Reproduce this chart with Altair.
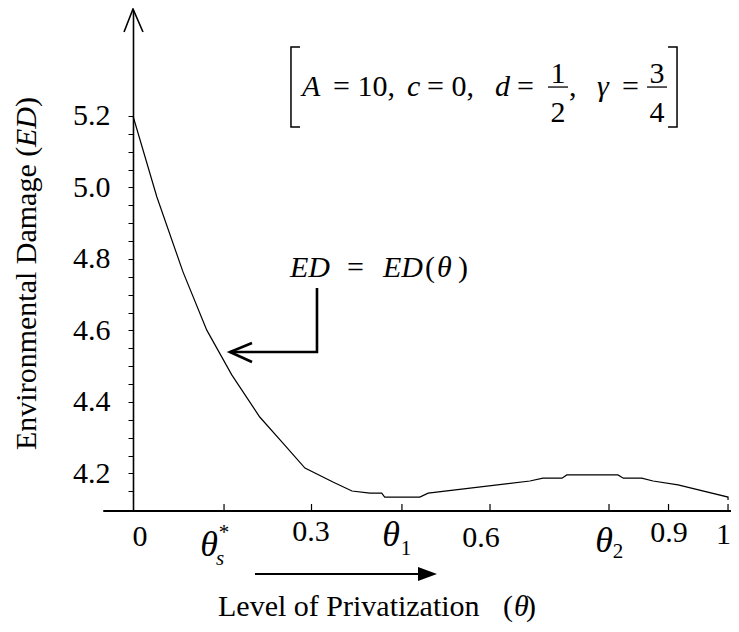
import altair as alt
import pandas as pd

FONT = "Liberation Serif, Times New Roman, Times, DejaVu Serif, serif"

# ---- curve ED(theta) ----
theta = [0.0, 0.04, 0.084, 0.124, 0.166, 0.213, 0.252, 0.289, 0.336, 0.368,
         0.398, 0.418, 0.423, 0.482, 0.496, 0.667, 0.689, 0.721, 0.729, 0.815,
         0.824, 0.855, 0.874, 0.916, 1.0, 1.0]
ed = [5.2, 4.974, 4.764, 4.601, 4.476, 4.358, 4.285, 4.215, 4.176, 4.151,
      4.145, 4.145, 4.134, 4.134, 4.145, 4.179, 4.187, 4.187, 4.196, 4.196,
      4.187, 4.187, 4.179, 4.168, 4.134, 4.126]

# ---- axes ----
y_tick_values = [4.15, 4.2, 4.25, 4.3, 4.35, 4.4, 4.45, 4.5, 4.55, 4.6, 4.65,
                 4.7, 4.75, 4.8, 4.85, 4.9, 4.95, 5.0, 5.05, 5.1, 5.15, 5.2]
x_tick_values = [0.153, 0.3, 0.452, 0.6, 0.8, 0.9, 1.0]
x_num_labels = ["0", "0.3", "0.6", "0.9", "1"]
x_num_pos = [0.0118, 0.2992, 0.5849, 0.9008, 0.9925]
x_num_base = [3.9972, 4.0112, 3.9944, 4.0084, 4.0028]

X_DOMAIN = [0, 1.005]
Y_DOMAIN = [4.0951, 5.4965]
XS = alt.Scale(domain=X_DOMAIN, nice=False, zero=False)
YS = alt.Scale(domain=Y_DOMAIN, nice=False, zero=False)
YAX = alt.Axis(
    values=y_tick_values, title=None, grid=False,
    domainColor="black", domainWidth=1.6, tickColor="black", tickWidth=1,
    tickSize=5, labelFont=FONT, labelFontSize=30, labelColor="black",
    labelPadding=18,
    labelExpr="round(datum.value*20) % 4 == 0 ? format(datum.value, '.1f') : ''")


def xy(xf="x", yf="y"):
    return dict(x=alt.X(f"{xf}:Q", scale=XS, axis=None),
                y=alt.Y(f"{yf}:Q", scale=YS, axis=YAX))


curve_df = pd.DataFrame({"x": theta, "y": ed, "i": list(range(len(theta)))})
curve = alt.Chart(curve_df).mark_line(color="black", strokeWidth=1.2, clip=False).encode(
    **xy(), order="i:Q")

# x axis line (extends to the left of the y axis)
xline = alt.Chart(pd.DataFrame({"x": [-0.05], "x2": [1.03], "y": [Y_DOMAIN[0]]})).mark_rule(
    color="black", strokeWidth=1.8, clip=False).encode(**xy(), x2="x2:Q")

# x ticks pointing up
xt_df = pd.DataFrame({"x": x_tick_values})
xt_df["y"] = Y_DOMAIN[0]
xt_df["y2"] = Y_DOMAIN[0] + 0.0196
xticks = alt.Chart(xt_df).mark_rule(color="black", strokeWidth=1.2, clip=False).encode(
    **xy(), y2="y2:Q")

# annotation line segments (in data units)
segs = [
    ("yarrow", 1.6, [(-0.0151, 5.435), (0.0, 5.4993), (0.0168, 5.435)]),
    ("ptr", 2.6, [(0.3092, 4.7189), (0.3092, 4.5399), (0.1630, 4.5399)]),
    ("ptrhead", 2.6, [(0.2, 4.565), (0.163, 4.5399), (0.2, 4.5119)]),
    ("lbr", 1.5, [(0.2807, 5.393), (0.2655, 5.393), (0.2655, 5.169), (0.2807, 5.169)]),
    ("rbr", 1.5, [(0.8992, 5.393), (0.9143, 5.393), (0.9143, 5.169), (0.8992, 5.169)]),
    ("bar1", 1.3, [(0.6975, 5.281), (0.7311, 5.281)]),
    ("bar2", 1.3, [(0.8639, 5.281), (0.8975, 5.281)]),
    ("xarrow", 2.0, [(0.2050, 3.9189), (0.4790, 3.9189)]),
]
rows = []
for name, w, pts in segs:
    for k, (px, py) in enumerate(pts):
        rows.append({"seg": name, "w": w, "o": k, "x": px, "y": py})
seg_df = pd.DataFrame(rows)
seglines = alt.Chart(seg_df).mark_line(color="black", clip=False).encode(
    **xy(), detail="seg:N", order="o:Q",
    strokeWidth=alt.StrokeWidth("w:Q", scale=None))

# filled arrowhead on the bottom arrow
tri_df = pd.DataFrame({"x": [0.479, 0.5109], "y": [3.9385, 3.9189], "y2": [3.8993, 3.9189]})
tri = alt.Chart(tri_df).mark_area(color="black", clip=False, interpolate="linear").encode(
    **xy(), y2="y2:Q")


def texts(items, size, italic=False, align="left", angle=0):
    df = pd.DataFrame(items, columns=["label", "x", "y"])
    return alt.Chart(df).mark_text(
        font=FONT, fontSize=size, fontStyle="italic" if italic else "normal",
        align=align, baseline="alphabetic", angle=angle, color="black", clip=False
    ).encode(**xy(), text="label:N")


num_labels = texts(list(zip(x_num_labels, x_num_pos, x_num_base)), 30, align="center")
theta_labels = texts([("θ", 0.1277, 3.9692), ("θ", 0.4336, 3.9972), ("θ", 0.7916, 3.9804)],
                     36, italic=True, align="center")
sub_regular = texts([("1", 0.4588, 3.972), ("2", 0.8151, 3.9636), ("*", 0.1530, 4.016)],
                    21, align="center")
sub_italic = texts([("s", 0.1462, 3.9441)], 21, italic=True, align="center")

reg_texts = texts([
    ("Level of Privatization", 0.1429, 3.8014),
    ("(", 0.6218, 3.8014), (")", 0.6605, 3.8014),
    ("=", 0.3597, 4.7497), ("(", 0.4908, 4.7497), (")", 0.5462, 4.7497),
    ("= 10,", 0.3361, 5.2559), ("= 0,", 0.4941, 5.2559), ("=", 0.6454, 5.2559),
    (",", 0.7328, 5.2559), ("=", 0.8218, 5.2559),
], 30)
ita_texts = texts([
    ("θ", 0.6403, 3.8014),
    ("ED", 0.2639, 4.7497), ("ED", 0.4202, 4.7497), ("θ", 0.5109, 4.7497),
    ("A", 0.2840, 5.2559), ("c", 0.4605, 5.2559), ("d", 0.6084, 5.2559),
    ("γ", 0.7798, 5.2559),
], 30, italic=True)
fractions = texts([("1", 0.7143, 5.2923), ("2", 0.7143, 5.1832),
                   ("3", 0.8807, 5.2923), ("4", 0.8807, 5.1832)], 30, align="center")

ytitle_reg = texts([("Environmental Damage (", -0.163, 4.2657), (")", -0.163, 5.2252)],
                   30, angle=270)
ytitle_ita = texts([("ED", -0.163, 5.1133)], 30, italic=True, angle=270)

chart = alt.layer(
    curve, xline, xticks, seglines, tri, num_labels, theta_labels, sub_regular,
    sub_italic, reg_texts, ita_texts, fractions, ytitle_reg, ytitle_ita
).properties(
    width=598, height=501,
    autosize=alt.AutoSizeParams(type="none"),
    padding={"left": 125, "top": 2, "right": 0, "bottom": 113},
).configure(font=FONT, background="white").configure_view(strokeWidth=0)

chart.save("out.html", embed_options={"renderer": "svg", "actions": False})
